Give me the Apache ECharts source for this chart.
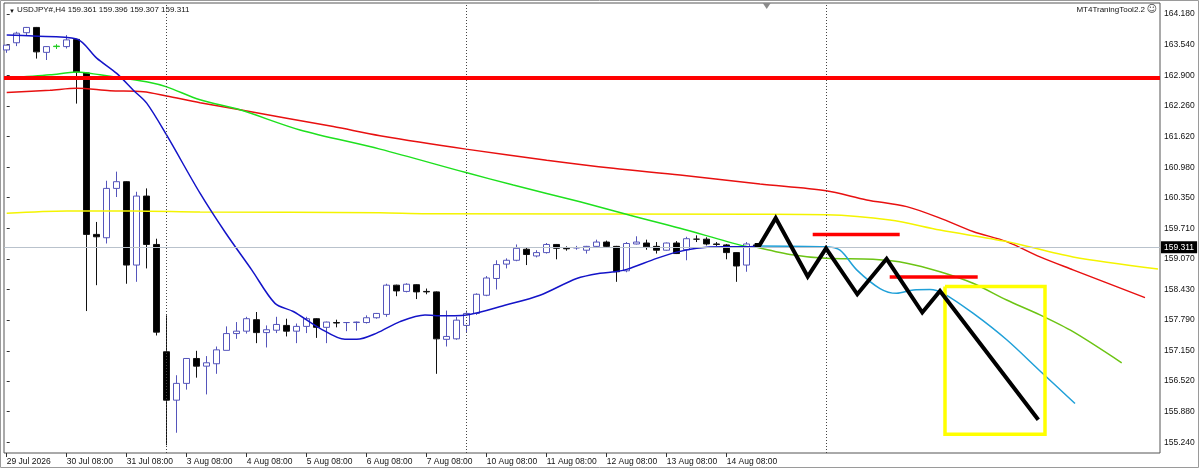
<!DOCTYPE html>
<html><head><meta charset="utf-8">
<script src="https://cdn.jsdelivr.net/npm/echarts@6/dist/echarts.min.js"></script>
<style>html,body{margin:0;padding:0;background:#fff}#c{width:1200px;height:469px}</style>
</head><body><div id="c"></div>
<script>
const symbolName = 'USDJPY#,H4';
const toolName = 'MT4TraningTool2.2';
const dateLabels = ['29 Jul 2026','30 Jul 08:00','31 Jul 08:00','3 Aug 08:00','4 Aug 08:00','5 Aug 08:00','6 Aug 08:00','7 Aug 08:00','10 Aug 08:00','11 Aug 08:00','12 Aug 08:00','13 Aug 08:00','14 Aug 08:00'];
const dateLabelBars = [0,6,12,18,24,30,36,42,48,54,60,66,72];
const priceTicks = [164.180,163.540,162.900,162.260,161.620,160.980,160.350,159.710,159.070,158.430,157.790,157.150,156.520,155.880,155.240];

const opens  = [163.43,163.58,163.79,163.90,163.38,163.50,163.50,163.65,162.95,159.58,159.51,160.54,160.68,158.94,160.38,159.37,157.13,156.12,156.47,156.99,156.83,156.88,157.16,157.51,157.56,157.80,157.53,157.58,157.68,157.56,157.66,157.82,157.64,157.74,157.74,157.74,157.74,157.84,157.91,158.52,158.39,158.53,158.39,158.38,157.39,157.40,157.68,157.93,158.31,158.66,158.96,159.04,159.27,159.13,159.20,159.37,159.29,159.30,159.25,159.33,159.42,159.33,158.82,159.38,159.40,159.33,159.25,159.40,159.26,159.48,159.48,159.38,159.36,159.20,158.94,159.361];
const highs  = [163.54,163.81,163.91,163.91,163.51,163.55,163.74,163.66,162.96,159.84,160.70,160.89,160.69,160.47,160.54,159.49,157.89,156.64,157.00,157.15,157.04,157.24,157.66,157.75,157.86,157.96,157.68,157.86,157.82,157.72,157.86,157.83,157.76,157.80,157.75,157.76,157.89,157.94,158.55,158.53,158.56,158.54,158.45,158.39,157.99,157.86,157.99,158.35,158.71,159.04,159.08,159.37,159.30,159.25,159.40,159.38,159.33,159.34,159.34,159.47,159.45,159.34,159.42,159.54,159.47,159.42,159.41,159.44,159.53,159.56,159.52,159.42,159.38,159.21,159.42,159.396];
const lows   = [163.37,163.51,163.74,163.25,163.22,163.45,163.46,162.31,157.98,158.52,159.39,160.36,158.55,158.59,158.87,157.47,155.18,155.44,156.34,156.59,156.24,156.67,157.16,157.40,157.51,157.31,157.22,157.52,157.45,157.31,157.52,157.42,157.31,157.64,157.56,157.57,157.72,157.82,157.86,158.29,158.37,158.23,158.33,156.67,157.24,157.38,157.54,157.90,158.29,158.43,158.87,159.02,158.94,159.10,159.18,159.06,159.24,159.26,159.18,159.30,159.30,158.59,158.79,159.37,159.26,159.18,159.24,159.17,159.04,159.42,159.35,159.34,159.06,158.59,158.80,159.307];
const closes = [163.53,163.78,163.90,163.39,163.50,163.51,163.64,162.97,159.58,159.53,160.54,160.68,158.94,160.38,159.37,157.54,156.12,156.47,156.99,156.83,156.90,157.17,157.51,157.56,157.82,157.53,157.59,157.70,157.56,157.66,157.82,157.64,157.75,157.73,157.74,157.75,157.84,157.93,158.52,158.40,158.54,158.38,158.38,157.40,157.45,157.79,157.93,158.33,158.67,158.95,159.04,159.29,159.16,159.20,159.37,159.29,159.28,159.30,159.33,159.42,159.33,158.80,159.39,159.42,159.32,159.25,159.40,159.18,159.49,159.48,159.38,159.37,159.20,158.92,159.38,159.311];
const greenDojiBar = 5;

const maBlue = [[0,163.74],[2.66,163.72],[7,163.66],[9,163.26],[11,162.94],[12.66,162.59],[14,162.32],[16,161.65],[19.33,160.44],[21.83,159.63],[24.5,158.84],[26.83,158.14],[28.66,157.97],[31.33,157.62],[33.83,157.39],[35,157.39],[37,157.52],[39.33,157.76],[41.83,157.90],[43,157.88],[46,157.90],[50,158.11],[53.33,158.31],[57,158.66],[59.33,158.77],[60.83,158.80],[62,158.85],[65,159.08],[67,159.21],[69,159.29],[71.66,159.32],[74,159.32],[75,159.34]];
const maBlueForecast = [[75,159.34],[81.93,159.32],[83.33,159.25],[85,158.84],[87.33,158.45],[89,158.35],[90.66,158.42],[92.33,158.43],[93.66,158.35],[96.66,157.93],[100,157.38],[103.33,156.73],[106.83,156.05]];
const maGreen = [[0,162.84],[4.33,162.91],[7,162.97],[9.33,162.91],[11.66,162.84],[14.33,162.75],[16,162.66],[19.33,162.39],[23.33,162.18],[29.33,161.76],[37.33,161.36],[45.93,160.87],[50.66,160.61],[57.33,160.26],[62.33,159.98],[67.33,159.71],[73.66,159.34],[74.83,159.32]];
const maGreenForecast = [[74.83,159.32],[78.33,159.16],[81.93,159.08],[86.63,159.06],[90,158.98],[93.33,158.80],[96.63,158.56],[100,158.21],[103.33,157.90],[106.63,157.55],[111.5,156.90]];
const maRed = [[0,162.54],[4.33,162.59],[7,162.63],[10.33,162.58],[13.66,162.56],[16,162.47],[19.33,162.33],[23.33,162.18],[32.66,161.83],[37.33,161.64],[45.93,161.36],[54,161.13],[60.66,160.96],[67.33,160.82],[75.33,160.63],[81.93,160.49],[86,160.30],[90,160.16],[93.33,159.92],[96.63,159.64],[100,159.43],[103.33,159.11],[106.63,158.84],[113.83,158.26]];
const maYellow = [[0,160.02],[6,160.07],[12.66,160.07],[19.33,160.05],[37.33,160.03],[42,160.01],[75.33,160.00],[81.93,159.99],[88.33,159.88],[93.33,159.67],[100,159.43],[106.63,159.11],[115.13,158.86]];
const zigzag = [[74.8,159.36],[75.3,159.36],[76.9,159.92],[80.1,158.70],[81.93,159.29],[85.06,158.33],[87.99,159.07],[91.56,157.95],[93.33,158.40],[103.16,155.71]];
const redLevel1 = [[80.6,159.58],[89.3,159.58]];
const redLevel2 = [[88.3,158.69],[97.1,158.69]];
const targetBox = [[93.83,158.49],[103.83,158.49],[103.83,155.41],[93.83,155.41],[93.83,158.49]];
const resistanceLevel = 162.85;
const separatorBars = [16,46,82];
const shiftMarkerBar = 76;

const xMin = -0.27, xMax = 115.33, yMin = 155.017, yMax = 164.41;
const last = opens.length - 1;
const FONT = 'Liberation Sans, Arial, sans-serif';

const candleData = opens.map((o, i) => {
  const item = { value: [i, o, closes[i], lows[i], highs[i]] };
  if (i === greenDojiBar) item.itemStyle = { color: '#22cc22', borderColor: '#22cc22', borderColor0: '#22cc22', color0: '#22cc22' };
  return item;
});

function lineSeries(name, data, color, width, z, extra) {
  return Object.assign({
    name, type: 'line', data, showSymbol: false, symbol: 'none', z: z || 3,
    lineStyle: { color, width }, silent: true, animation: false
  }, extra || {});
}
const SM = { smooth: 0.3 };

const chart = echarts.init(document.getElementById('c'), null, { renderer: 'canvas' });
chart.setOption({
  animation: false,
  backgroundColor: '#ffffff',
  grid: { left: 4, top: 3, right: 40, bottom: 16, show: true, borderColor: '#555', borderWidth: 1, backgroundColor: '#fff' },
  xAxis: {
    type: 'value', min: xMin, max: xMax,
    axisLine: { show: false },
    axisTick: { show: true, customValues: dateLabelBars, length: 4, lineStyle: { color: '#333' } },
    axisLabel: { show: true, customValues: dateLabelBars, align: 'left', margin: 4, fontSize: 8.5, fontFamily: FONT, color: '#111',
      formatter: v => { const i = dateLabelBars.indexOf(Math.round(v)); return i >= 0 ? dateLabels[i] : ''; } },
    splitLine: { show: false }
  },
  yAxis: {
    type: 'value', position: 'right', min: yMin, max: yMax, scale: true,
    axisLine: { show: false },
    axisTick: { show: true, customValues: priceTicks, length: 3, lineStyle: { color: '#333' } },
    axisLabel: { show: true, customValues: priceTicks, margin: 4, fontSize: 8.5, fontFamily: FONT, color: '#111',
      formatter: v => v.toFixed(3) },
    splitLine: { show: false }
  },
  series: [
    {
      name: 'markers', type: 'line', data: [], clip: false, silent: true, z: 1,
      markLine: {
        silent: true, symbol: ['none', 'none'], animation: false,
        data: [
          ...separatorBars.map(b => ({ xAxis: b, lineStyle: { color: '#444', width: 1, type: [1, 2] }, label: { show: false } })),
          { yAxis: closes[last], lineStyle: { color: '#b9c2cc', width: 1, type: 'solid' },
            label: { show: true, position: 'end', distance: 1, formatter: closes[last].toFixed(3), color: '#fff', backgroundColor: '#000',
              padding: [2, 3, 1, 3], fontSize: 8.5, fontFamily: FONT } },
          { yAxis: resistanceLevel, lineStyle: { color: '#ff0000', width: 4, type: 'solid' }, label: { show: false } }
        ]
      },
      markPoint: {
        silent: true, animation: false,
        data: [{ coord: [shiftMarkerBar, yMax], symbol: 'triangle', symbolRotate: 180, symbolSize: [8, 6], symbolOffset: [0, 3], itemStyle: { color: '#8a8a8a' }, label: { show: false } }]
      }
    },
    {
      name: 'candles', type: 'candlestick', data: candleData, barWidth: 7, z: 2, silent: true, animation: false,
      itemStyle: { color: '#ffffff', color0: '#000000', borderColor: '#5555bb', borderColor0: '#111111', borderWidth: 1 }
    },
    lineSeries('MA red', maRed, '#e81010', 1.5, 3, SM),
    lineSeries('MA yellow', maYellow, '#f4f400', 1.5, 3, SM),
    lineSeries('MA green', maGreen, '#1ee01e', 1.5, 3, SM),
    lineSeries('MA green forecast', maGreenForecast, '#6cc414', 1.5, 3, SM),
    lineSeries('MA blue forecast', maBlueForecast, '#20a0d8', 1.5, 3, SM),
    lineSeries('MA blue', maBlue, '#1414c8', 1.5, 4, SM),
    lineSeries('level 1', redLevel1, '#ff0000', 3.5, 5),
    lineSeries('level 2', redLevel2, '#ff0000', 3.5, 5),
    lineSeries('target box', targetBox, '#ffff00', 3.5, 5, { lineStyle: { color: '#ffff00', width: 3.5, join: 'miter' } }),
    lineSeries('zigzag', zigzag, '#000000', 4, 6, { lineStyle: { color: '#000', width: 4, join: 'miter' } })
  ],
  graphic: [
    { type: 'rect', silent: true, shape: { x: 0.5, y: 0.5, width: 1198, height: 467 }, style: { fill: null, stroke: '#9a9a9a', lineWidth: 1 }, z: -1 },
    { type: 'text', silent: true, left: 9, top: 8, style: { text: '▼', font: '6px ' + FONT, fill: '#111' } },
    { type: 'text', silent: true, left: 17, top: 6,
      style: { text: symbolName + ' ' + [opens[last], highs[last], lows[last], closes[last]].map(v => v.toFixed(3)).join(' '), font: '8px ' + FONT, fill: '#111' } },
    { type: 'text', silent: true, right: 55, top: 6, style: { text: toolName, font: '8px ' + FONT, fill: '#111' } },
    { type: 'text', silent: true, right: 43, top: 4, style: { text: '☺', font: '10px DejaVu Sans', fill: '#444' } }
  ]
});
</script></body></html>
